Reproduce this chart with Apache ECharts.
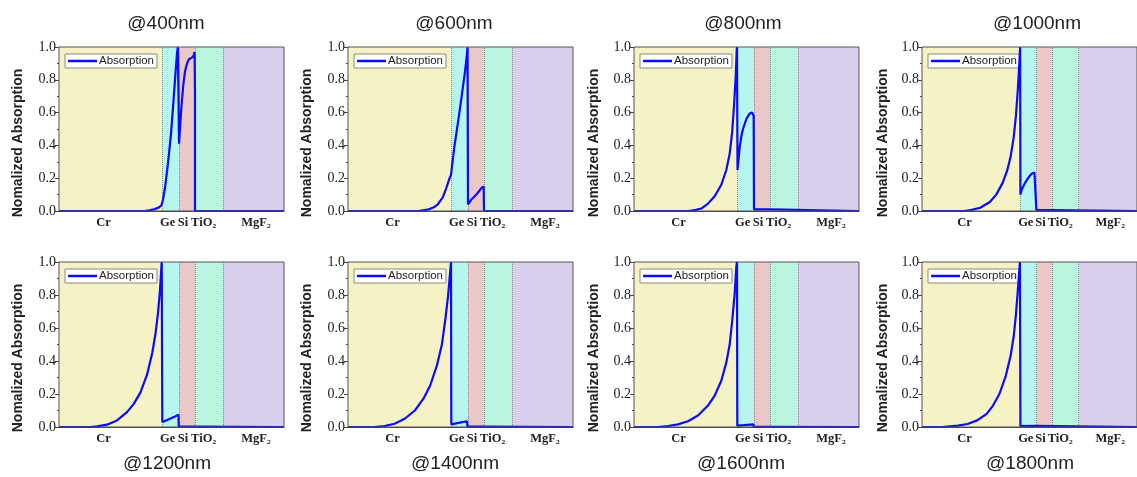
<!DOCTYPE html>
<html>
<head>
<meta charset="utf-8">
<script src="https://cdn.jsdelivr.net/npm/echarts@6/dist/echarts.min.js"></script>
<style>
  html, body { margin: 0; padding: 0; background: #ffffff; }
  #chart { width: 1137px; height: 477px; }
</style>
</head>
<body>
<div id="chart"></div>
<script>
// Layer stack (depth coordinate along the film, arbitrary units)
const layerNames = ['Cr', 'Ge', 'Si', 'TiO₂', 'MgF₂'];
const layerEdges = [0, 103, 120, 136, 164, 225];
const layerLabelPos = [44.5, 108.6, 124, 144.6, 197];
const layerColors = ['#F5F3C5', '#B6F6EE', '#EBC8C8', '#B9F6DD', '#DBCFEE'];

// Y ticks
const yTicks = [0, 0.2, 0.4, 0.6, 0.8, 1.0];

// Wavelength of each panel
const panelTitles = ['@400nm', '@600nm', '@800nm', '@1000nm', '@1200nm', '@1400nm', '@1600nm', '@1800nm'];

// Normalized absorption profiles [depth, value]
const abs400 = [[0,0],[85,0],[90,0.004],[95,0.01],[100,0.022],[102.5,0.035],[103,0.045],[104,0.07],[106,0.14],[108,0.24],[110,0.35],[112,0.47],[114,0.63],[116,0.8],[118,0.96],[118.8,1.0],[119.4,0.75],[120,0.41],[121,0.5],[122,0.6],[123,0.68],[124.5,0.78],[126,0.85],[128,0.9],[130,0.925],[132,0.935],[134,0.94],[135,0.955],[135.6,0.97],[136,0.72],[136,0],[225,0]];
const abs600 = [[0,0],[70,0],[72.9,0.002],[79.7,0.008],[86.5,0.025],[89.8,0.04],[94.9,0.085],[98.3,0.14],[101.6,0.2],[103,0.22],[106.3,0.39],[110,0.54],[113.7,0.7],[117,0.85],[119,0.96],[119.5,1.0],[120,0.04],[121,0.05],[123.3,0.07],[126,0.085],[128.3,0.1],[131,0.12],[133.3,0.14],[135.7,0.15],[136,0],[225,0]];
const abs800 = [[0,0],[54,0],[57.3,0.002],[62,0.007],[67.3,0.015],[74,0.045],[80.7,0.09],[87.3,0.16],[92.3,0.25],[95.7,0.35],[98,0.47],[100,0.64],[101.7,0.82],[102.7,0.98],[103,1.0],[103.5,0.25],[105.7,0.39],[107.5,0.46],[109,0.5],[112.3,0.56],[115.7,0.595],[118,0.6],[119,0.59],[119.7,0.58],[120,0.01],[135.8,0.01],[136,0],[225,0]];
const abs1000 = [[0,0],[44,0],[51,0.005],[61,0.02],[71,0.055],[77.7,0.1],[84.3,0.17],[89.3,0.25],[92.7,0.33],[96,0.45],[98.3,0.58],[100.3,0.74],[101.7,0.88],[102.7,1.0],[103,0.1],[104.3,0.13],[107.7,0.17],[111,0.2],[114.3,0.225],[117.7,0.235],[119.3,0.24],[119.7,0.005],[136,0.005],[136.3,0],[225,0]];
const abs1200 = [[0,0],[31,0],[38,0.004],[48,0.014],[58,0.04],[68,0.09],[74.8,0.14],[81.5,0.21],[88.2,0.32],[93.3,0.45],[96.6,0.57],[99,0.69],[101,0.83],[102.7,1.0],[103.3,0.03],[107,0.04],[111,0.05],[115,0.06],[119.4,0.075],[119.8,0.003],[136,0.003],[136.3,0],[225,0]];
const abs1400 = [[0,0],[26,0],[36.5,0.006],[46.6,0.02],[56.7,0.05],[66.9,0.1],[75.3,0.17],[82.1,0.25],[88.8,0.37],[93.9,0.5],[97.3,0.65],[100,0.79],[102,0.93],[103,1.0],[103.3,0.016],[108,0.022],[113,0.028],[119,0.035],[119.4,0.002],[136,0.002],[136.3,0],[225,0]];
const abs1600 = [[0,0],[24,0],[34,0.006],[44,0.016],[54,0.035],[64,0.07],[74,0.13],[80.7,0.19],[87.3,0.28],[92.3,0.39],[95.7,0.5],[98.3,0.65],[100.7,0.81],[102.3,0.97],[103,1.0],[103.3,0.008],[110,0.011],[119.4,0.016],[119.7,0.001],[136,0.001],[136.3,0],[225,0]];
const abs1800 = [[0,0],[21,0],[37.7,0.008],[47.7,0.018],[57.7,0.04],[67.7,0.08],[74.3,0.13],[81,0.2],[87.7,0.31],[92.7,0.43],[96,0.55],[98.3,0.68],[100.3,0.83],[101.7,0.94],[102.5,1.0],[103,0.005],[119.3,0.007],[119.6,0],[225,0]];

const profiles = [abs400, abs600, abs800, abs1000, abs1200, abs1400, abs1600, abs1800];

// Panel layout
const gridLefts = [59, 348, 634, 922];
const gridTops = [47, 262];
const gridHeights = [164, 165];
const gridWidth = 225;
const titleX = [[166, 454, 743, 1037], [167, 455, 741, 1030]];
const titleY = [24, 464];
const yNameX = [18, 307, 594, 883];
const yNameY = [143, 358];

const sans = 'Liberation Sans, Arial, sans-serif';
const serif = 'Liberation Serif, Times New Roman, serif';

const grids = [], xAxes = [], yAxes = [], series = [], legends = [], graphics = [];

for (let i = 0; i < 8; i++) {
  const row = Math.floor(i / 4), col = i % 4;
  const left = gridLefts[col], top = gridTops[row];

  grids.push({
    left: left, top: top, width: gridWidth, height: gridHeights[row],
    show: true, backgroundColor: 'transparent',
    borderColor: '#555', borderWidth: 1, z: 10
  });

  xAxes.push({
    gridIndex: i, type: 'value', min: layerEdges[0], max: layerEdges[layerEdges.length - 1],
    axisLine: { show: true, onZero: false, lineStyle: { color: '#444', width: 1 } },
    axisTick: { show: false },
    splitLine: { show: false },
    axisLabel: {
      customValues: layerLabelPos,
      formatter: v => layerNames[layerLabelPos.indexOf(v)] || '',
      fontFamily: serif, fontWeight: 'bold', fontSize: 12.5, color: '#222', margin: 5
    }
  });

  yAxes.push({
    gridIndex: i, type: 'value', min: yTicks[0], max: yTicks[yTicks.length - 1], interval: 0.2,
    axisLine: { show: true, lineStyle: { color: '#444', width: 1 } },
    axisTick: { show: true, length: 4, lineStyle: { color: '#444' } },
    minorTick: { show: true, splitNumber: 2, length: 2, lineStyle: { color: '#444' } },
    splitLine: { show: false },
    axisLabel: {
      formatter: v => v.toFixed(1),
      fontFamily: serif, fontSize: 14, color: '#222', margin: 3
    }
  });

  // Coloured layer bands with dotted interfaces
  series.push({
    name: 'layers', type: 'line', xAxisIndex: i, yAxisIndex: i, data: [], z: 1, silent: true,
    markArea: {
      silent: true, z: 1,
      data: layerNames.map((n, k) => [
        { xAxis: layerEdges[k], itemStyle: { color: layerColors[k] } },
        { xAxis: layerEdges[k + 1] }
      ])
    },
    markLine: {
      silent: true, symbol: 'none', animation: false, z: 2,
      label: { show: false },
      lineStyle: { type: 'dotted', color: '#888', width: 1 },
      data: layerEdges.slice(1, -1).map(e => ({ xAxis: e }))
    }
  });

  series.push({
    name: 'Absorption', type: 'line', xAxisIndex: i, yAxisIndex: i,
    data: profiles[i], symbol: 'none', z: 8, clip: true,
    lineStyle: { color: '#0a0aff', width: 2.2 },
    itemStyle: { color: '#0a0aff' }
  });

  legends.push({
    data: [{ name: 'Absorption', icon: 'rect' }], left: left + 6, top: top + 7,
    orient: 'horizontal', itemWidth: 29, itemHeight: 2.5,
    backgroundColor: '#ffffff', borderColor: '#888', borderWidth: 1,
    padding: [1, 3, 1, 3], borderRadius: 0, selectedMode: false,
    textStyle: { fontFamily: sans, fontSize: 11.5, color: '#222', padding: [0, 0, 0, -3] }
  });

  graphics.push({
    type: 'text', x: titleX[row][col], y: titleY[row], z: 20,
    style: { text: panelTitles[i], fontFamily: sans, fontSize: 19, fill: '#222', align: 'center', verticalAlign: 'middle' }
  });
  graphics.push({
    type: 'text', x: yNameX[col], y: yNameY[row], rotation: Math.PI / 2, z: 20,
    style: { text: 'Nomalized Absorption', fontFamily: sans, fontWeight: 'bold', fontSize: 14, fill: '#222', align: 'center', verticalAlign: 'middle' }
  });
}

const chart = echarts.init(document.getElementById('chart'), null, { renderer: 'canvas' });
chart.setOption({
  animation: false,
  backgroundColor: '#ffffff',
  grid: grids,
  xAxis: xAxes,
  yAxis: yAxes,
  legend: legends,
  series: series,
  graphic: graphics
});
</script>
</body>
</html>
